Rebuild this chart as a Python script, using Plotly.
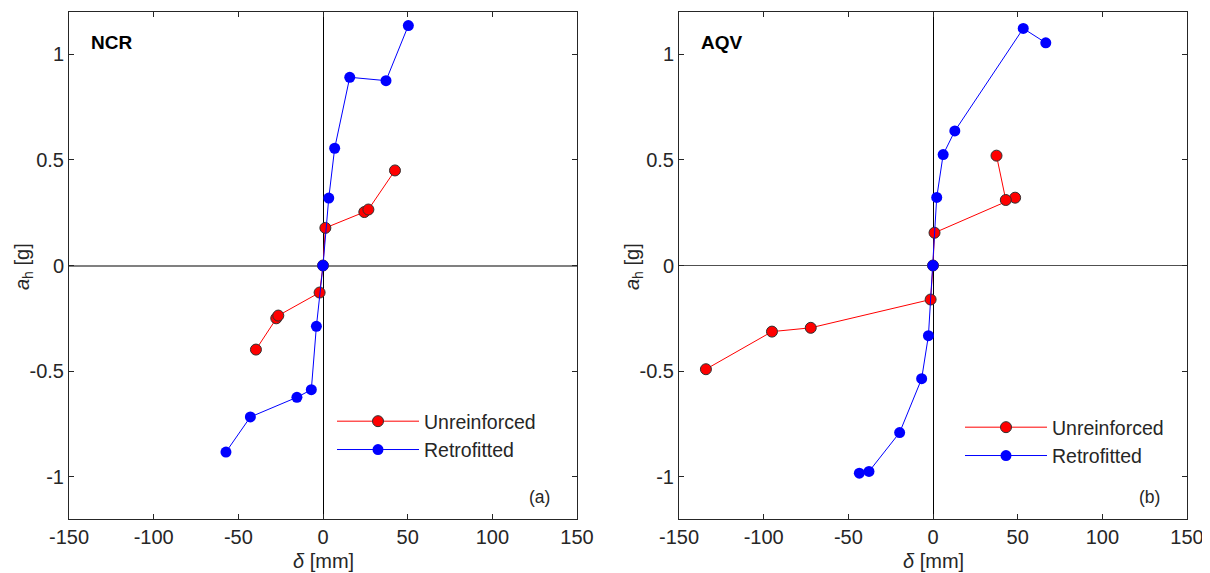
import plotly.graph_objects as go

# ---------------- data ----------------
# Panel (a) NCR
ncr_unr_x = [-39.6, -27.6, -26.4, -2.0, 0.0, 1.4, 24.4, 26.8, 42.5]
ncr_unr_y = [-0.398, -0.250, -0.237, -0.128, 0.0, 0.178, 0.253, 0.265, 0.450]
ncr_ret_x = [-57.3, -42.9, -15.4, -6.9, -3.9, 0.0, 3.4, 6.9, 15.8, 37.2, 50.4]
ncr_ret_y = [-0.883, -0.717, -0.624, -0.588, -0.288, 0.0, 0.319, 0.555, 0.891, 0.875, 1.136]

# Panel (b) AQV
aqv_unr_x = [-134.1, -95.1, -72.2, -1.4, 0.0, 0.9, 48.5, 43.0, 37.5]
aqv_unr_y = [-0.491, -0.313, -0.295, -0.161, 0.0, 0.155, 0.321, 0.310, 0.520]
aqv_ret_x = [-43.5, -37.8, -19.7, -6.7, -2.7, 0.0, 2.2, 6.0, 12.9, 53.3, 66.6]
aqv_ret_y = [-0.983, -0.975, -0.791, -0.536, -0.332, 0.0, 0.322, 0.525, 0.637, 1.122, 1.054]

series_names = ["Unreinforced", "Retrofitted"]
panel_names = ["NCR", "AQV"]
panel_tags = ["(a)", "(b)"]
x_title = "<i>δ</i> [mm]"
y_title = "<i>a</i><sub>h</sub> [g]"

x_tickvals = [-150, -100, -50, 0, 50, 100, 150]
x_ticktext = ["-150", "-100", "-50", "0", "50", "100", "150"]
y_tickvals = [-1, -0.5, 0, 0.5, 1]
y_ticktext = ["-1", "-0.5", "0", "0.5", "1"]

# ---------------- figure ----------------
FONT = "Liberation Sans, Arial, sans-serif"
TXT = "#262626"

# page body has an 8px margin; figure sized to fit the window
OFF = 8
W, H = 1210 - OFF, 573 - OFF

def px(sx):   # screen x -> paper fraction
    return (sx - OFF) / W

def py(sy):   # screen y -> paper fraction
    return 1 - (sy - OFF) / H

fig = go.Figure()

def add_pair(ux, uy, rx, ry, xa, ya, leg):
    fig.add_trace(go.Scatter(
        x=ux, y=uy, mode="lines+markers", name=series_names[0],
        line=dict(color="#ff0000", width=1),
        marker=dict(color="#ff0000", size=11, line=dict(color="#303030", width=1)),
        xaxis=xa, yaxis=ya, legend=leg))
    fig.add_trace(go.Scatter(
        x=rx, y=ry, mode="lines+markers", name=series_names[1],
        line=dict(color="#0000ff", width=1),
        marker=dict(color="#0000ff", size=11, line=dict(color="#0000ff", width=0)),
        xaxis=xa, yaxis=ya, legend=leg))

add_pair(ncr_unr_x, ncr_unr_y, ncr_ret_x, ncr_ret_y, "x", "y", "legend")
add_pair(aqv_unr_x, aqv_unr_y, aqv_ret_x, aqv_ret_y, "x2", "y2", "legend2")

dom_x1 = [px(69), px(577)]
dom_x2 = [px(679), px(1187)]
dom_y = [py(519), py(12)]

def xaxis(domain, anchor):
    return dict(domain=domain, anchor=anchor, range=[-150, 150], automargin=False,
                tickvals=x_tickvals, ticktext=x_ticktext,
                ticks="inside", ticklen=5, tickcolor=TXT, tickwidth=1,
                showline=True, linecolor=TXT, linewidth=1, mirror="ticks",
                showgrid=False, zeroline=True, zerolinecolor="#000000", zerolinewidth=1,
                tickfont=dict(family=FONT, size=20, color=TXT))

def yaxis(domain, anchor, zc, zw):
    return dict(domain=domain, anchor=anchor, range=[-1.2, 1.2], automargin=False,
                tickvals=y_tickvals, ticktext=y_ticktext,
                ticks="inside", ticklen=5, tickcolor=TXT, tickwidth=1,
                showline=True, linecolor=TXT, linewidth=1, mirror="ticks",
                showgrid=False, zeroline=True, zerolinecolor=zc, zerolinewidth=zw,
                tickfont=dict(family=FONT, size=20, color=TXT))

fig.update_layout(
    width=W, height=H,
    margin=dict(l=0, r=0, t=0, b=0, autoexpand=False),
    paper_bgcolor="white", plot_bgcolor="white",
    font=dict(family=FONT, size=18, color=TXT),
    xaxis=xaxis(dom_x1, "y"),
    yaxis=yaxis(dom_y, "x", "#808080", 2),
    xaxis2=xaxis(dom_x2, "y2"),
    yaxis2=yaxis(dom_y, "x2", "#505050", 1.3),
    legend=dict(x=px(332), y=py(402), xanchor="left", yanchor="top",
                bgcolor="rgba(0,0,0,0)", font=dict(family=FONT, size=19.5, color=TXT),
                itemwidth=82, tracegroupgap=0),
    legend2=dict(x=px(960), y=py(408), xanchor="left", yanchor="top",
                 bgcolor="rgba(0,0,0,0)", font=dict(family=FONT, size=19.5, color=TXT),
                 itemwidth=82, tracegroupgap=0),
    showlegend=True,
)

# axis titles
for cx in (323, 933):
    fig.add_annotation(xref="paper", yref="paper", x=px(cx), y=py(561),
                       xanchor="center", yanchor="middle", text=x_title, showarrow=False,
                       font=dict(family=FONT, size=20, color=TXT))
for cx in (23, 633):
    fig.add_annotation(xref="paper", yref="paper", x=px(cx), y=py(267),
                       xanchor="center", yanchor="middle", text=y_title, showarrow=False,
                       textangle=-90, font=dict(family=FONT, size=20, color=TXT))

# panel labels
fig.add_annotation(xref="x domain", yref="y domain", x=0.04, y=0.94, xanchor="left", yanchor="middle",
                   text="<b>" + panel_names[0] + "</b>", showarrow=False,
                   font=dict(family=FONT, size=19, color="#000000"))
fig.add_annotation(xref="x2 domain", yref="y2 domain", x=0.04, y=0.94, xanchor="left", yanchor="middle",
                   text="<b>" + panel_names[1] + "</b>", showarrow=False,
                   font=dict(family=FONT, size=19, color="#000000"))
fig.add_annotation(xref="x domain", yref="y domain", x=0.951, y=0.043, xanchor="right", yanchor="middle",
                   text=panel_tags[0], showarrow=False, font=dict(family=FONT, size=17.5, color=TXT))
fig.add_annotation(xref="x2 domain", yref="y2 domain", x=0.951, y=0.043, xanchor="right", yanchor="middle",
                   text=panel_tags[1], showarrow=False, font=dict(family=FONT, size=17.5, color=TXT))

fig.write_html("out.html")
